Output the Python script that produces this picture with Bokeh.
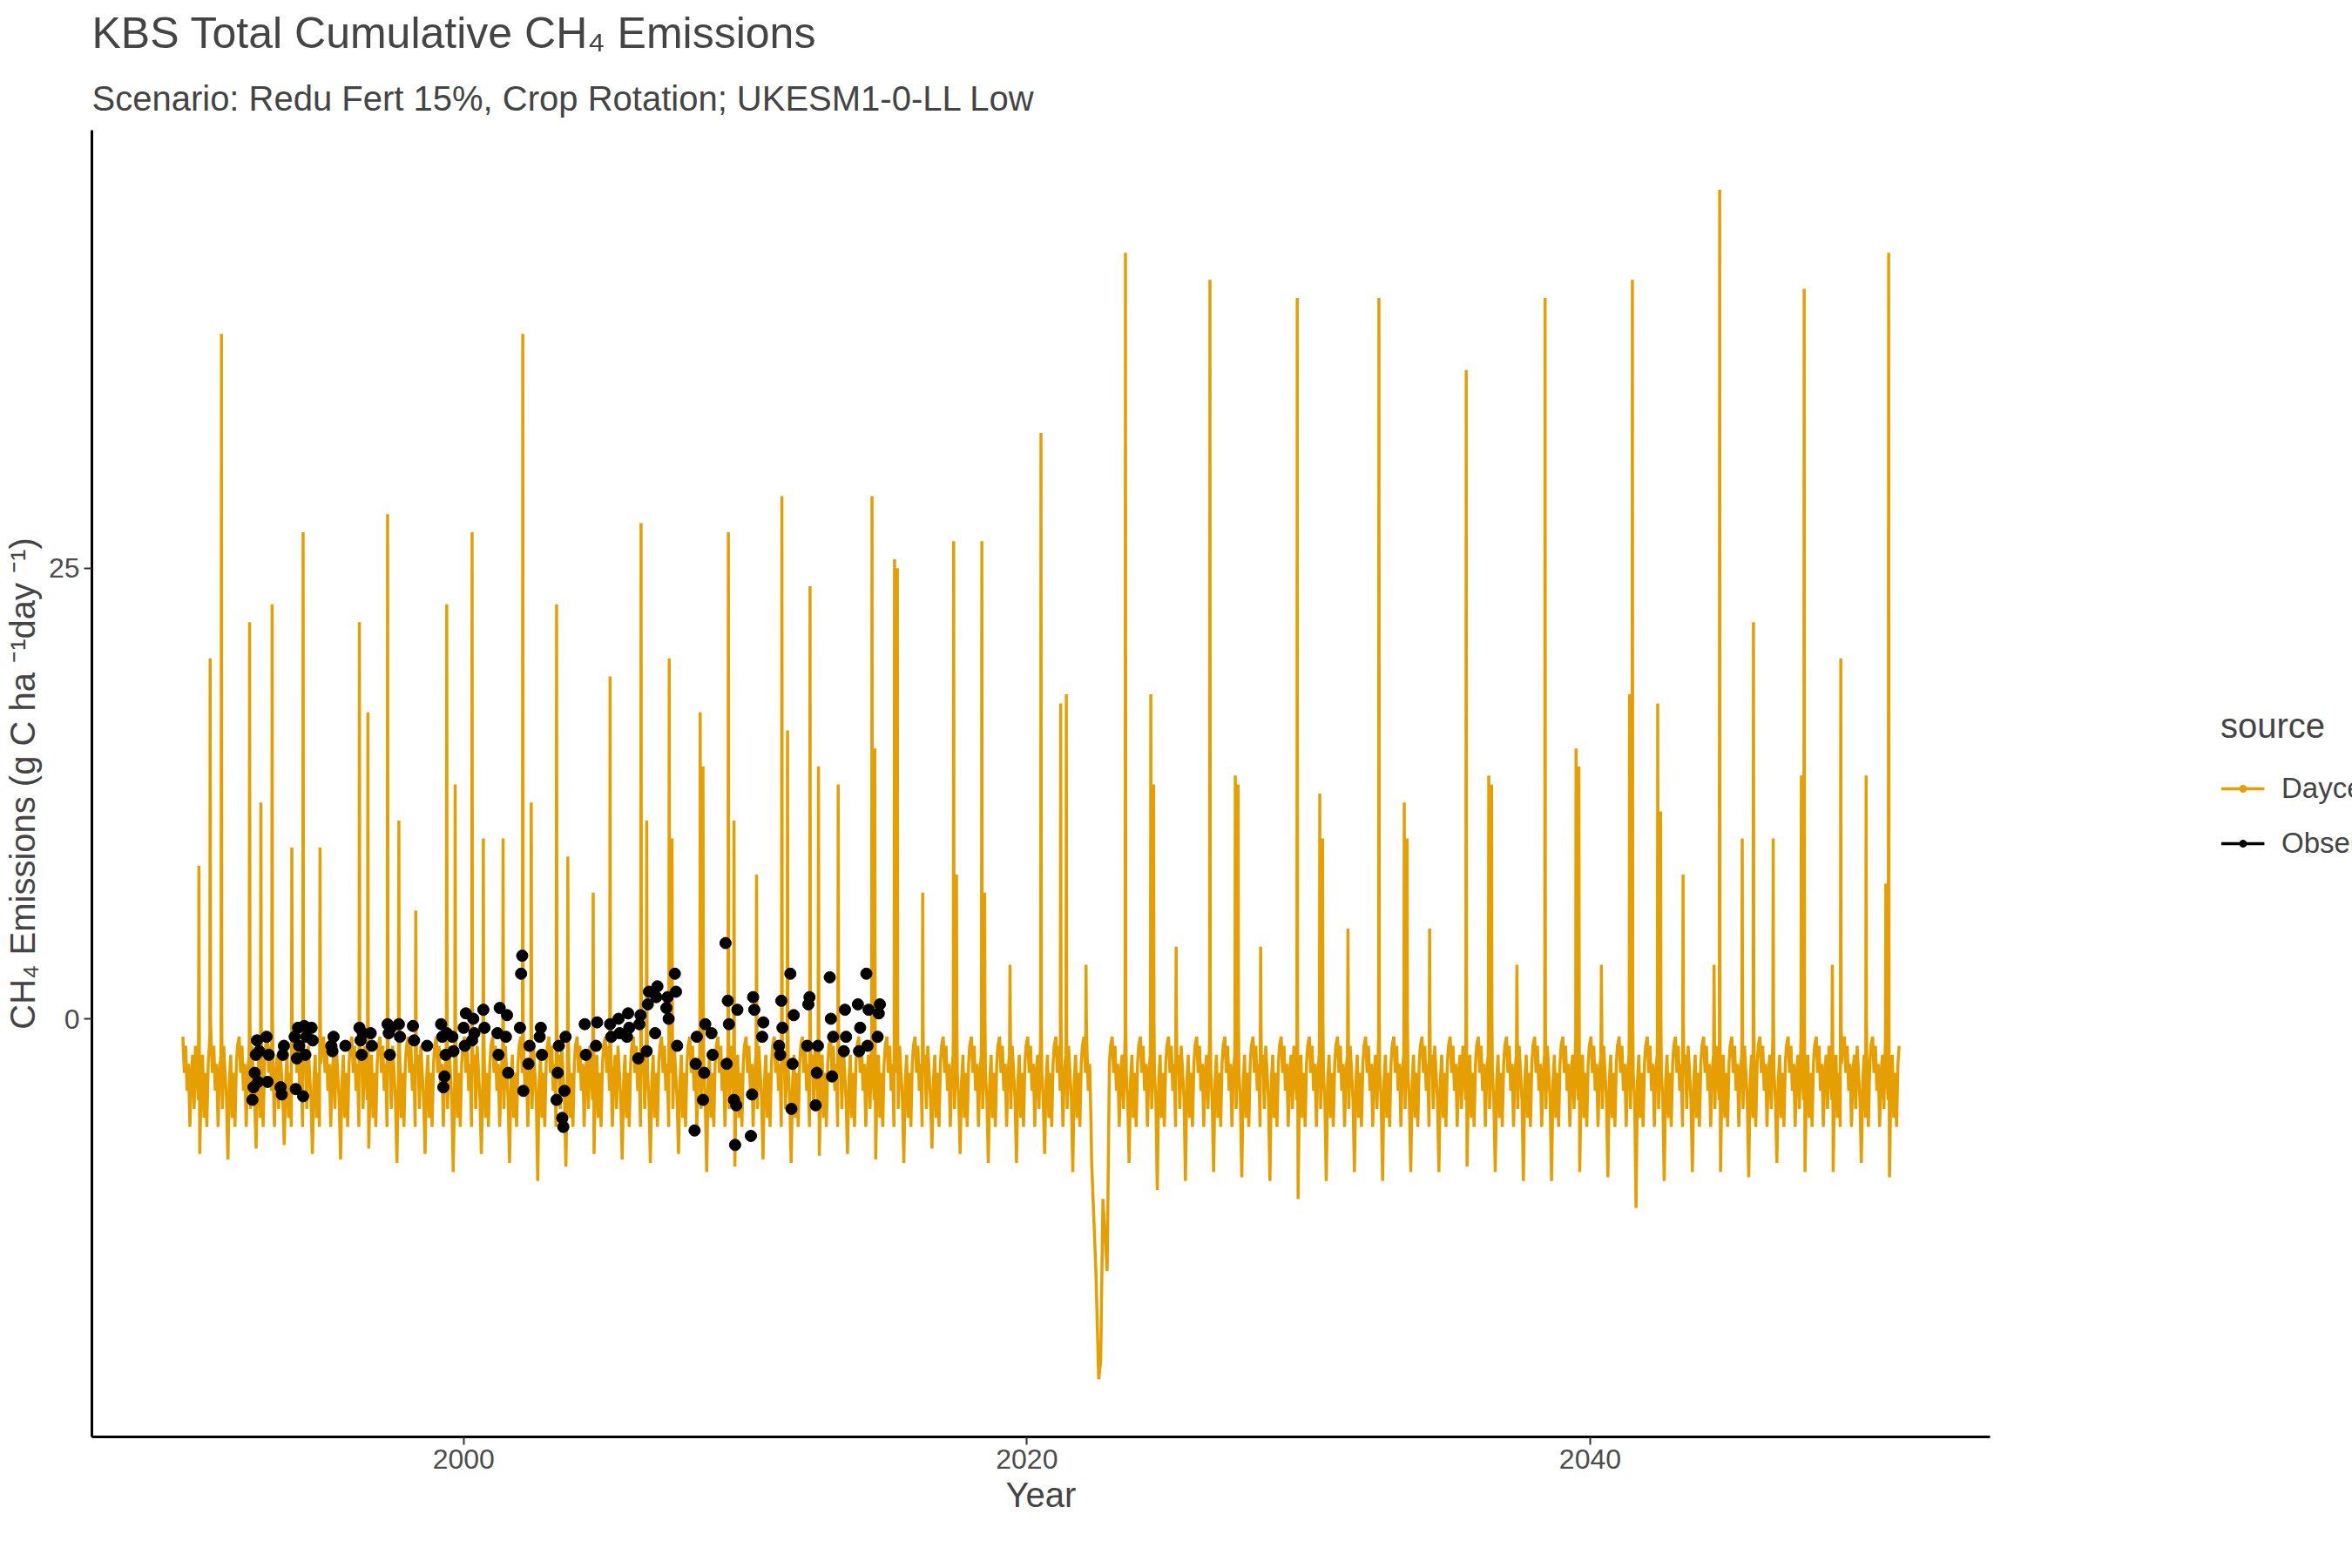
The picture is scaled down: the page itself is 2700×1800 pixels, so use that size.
from bokeh.plotting import figure
from bokeh.models import Legend, LegendItem, FixedTicker, Title
from bokeh.embed import file_html
from bokeh.resources import INLINE

# Daycent: yearly minimum (late-season trough), g C / ha / day
years = list(range(1990, 2051))
troughs = [-7.5, -7.8, -7.2, -7.0, -7.5, -7.8, -7.2, -8.0, -7.5, -8.5, -7.5, -8.0,
           -9.0, -8.2, -7.5, -7.8, -8.0, -7.5, -8.5, -8.2, -7.8, -8.0, -7.6, -7.5,
           -7.8, -8.0, -7.2, -7.5, -8.0, -8.0, -7.5, -8.5, -8.5, -8.0, -9.5, -9.0,
           -8.5, -8.8, -9.0, -10.0, -9.0, -8.5, -9.0, -8.5, -8.5, -8.2, -8.5, -9.0,
           -9.0, -8.5, -8.8, -10.5, -9.0, -8.5, -8.5, -8.8, -8.0, -8.5, -8.5, -8.0, -8.8]
# seasonal shape within a year (fraction of year, value); None marks the trough
season_pos = [0.03, 0.08, 0.13, 0.18, 0.23, 0.28, 0.33, 0.38, 0.43, 0.48, 0.53,
              0.58, 0.63, 0.68, 0.73, 0.78, 0.83, 0.88, 0.93, 0.97]
season_val = [-1.0, -3.0, -1.5, -4.0, -2.5, -6.0, -3.0, -2.0, -5.0, -1.5, -3.0,
              -4.5, None, -3.5, -2.0, -5.5, -3.0, -6.0, -2.5, -1.5]

# emission spikes (year, peak)
spike_x = [1991.4, 1992.4, 1993.2, 1994.3, 1996.3, 1997.3, 1999.4, 2000.3, 2002.1, 2003.3,
           2005.2, 2006.3, 2007.3, 2008.4, 2009.4, 2011.3, 2012.3, 2014.5, 2015.3, 2017.4,
           2018.4, 2020.5, 2021.4, 2023.5, 2024.4, 2026.5, 2027.4, 2029.6, 2030.4, 2032.5,
           2033.4, 2035.6, 2036.4, 2038.4, 2039.5, 2041.5, 2042.4, 2044.6, 2045.8, 2047.6,
           2048.9, 2050.6,
           1990.6, 1991.0, 1992.8, 1993.9, 1994.9, 1996.6, 1997.7, 1998.3, 1999.7, 2000.7,
           2001.4, 2002.4, 2003.7, 2004.6, 2006.5, 2007.4, 2008.5, 2009.6, 2010.4, 2011.5,
           2012.6, 2013.3, 2014.6, 2015.4, 2016.3, 2017.5, 2018.5, 2019.4, 2021.2, 2022.1,
           2024.5, 2025.3, 2027.5, 2028.3, 2030.5, 2031.4, 2033.5, 2034.3, 2036.5, 2037.4,
           2039.6, 2040.4, 2041.4, 2042.5, 2043.3, 2044.4, 2045.4, 2046.5, 2047.5, 2048.6,
           2049.8, 2050.5]
spike_h = [38, 22, 23, 27, 22, 28, 23, 27, 38, 23,
           19, 27.5, 20, 17, 27, 29, 24, 29, 25.5, 26.5,
           26.5, 32.5, 18, 42.5, 18, 41, 13.5, 40, 12.5, 40,
           12, 36, 13.5, 40, 15, 41, 17.5, 46, 22, 40.5,
           20, 42.5,
           8.5, 20, 12, 9.5, 9.5, 17, 11, 6, 13, 10,
           10, 12, 9, 7, 11, 10, 14, 11, 8, 16,
           14, 13, 15, 25, 7, 8, 7, 3, 17.5, 3,
           13, 4, 13, 4, 10, 5, 10, 5, 13, 3,
           14, 3, 18, 11.5, 8, 3, 10, 10, 13.5, 3,
           13.5, 7.5]

# 2022 soil-uptake anomaly
dip_x = [2022.3, 2022.45, 2022.55, 2022.62, 2022.7, 2022.85]
dip_y = [-8, -14, -20, -19, -10, -14]

# Observed measurements: sampling date -> values
obs = {
    1992.5: [-4.5, -3.8, -3.0, -2.0, -1.2, -3.5, -1.8], 1993.0: [-1.0, -3.5, -2.0],
    1993.5: [-3.8, -4.2, -2.0, -1.5], 1994.0: [-1.0, -3.9, -2.2, -0.5, -1.5],
    1994.3: [-4.3, -0.4, -2.0, -1.0], 1994.6: [-0.5, -1.2], 1995.3: [-1.5, -1.8, -1.0],
    1995.8: [-1.5], 1996.3: [-0.5, -1.2, -2.0, -0.8], 1996.7: [-0.8, -1.5],
    1997.3: [-0.3, -0.8, -2.0, -0.5], 1997.7: [-0.3, -1.0], 1998.2: [-0.4, -1.2],
    1998.7: [-1.5], 1999.2: [-0.3, -1.0, -3.8, -3.2, -2.0, -0.8], 1999.6: [-1.0, -1.8],
    2000.0: [-0.5, -1.5, 0.3], 2000.3: [-1.2, 0.0, -0.8], 2000.7: [0.5, -0.5],
    2001.2: [-0.8, -2.0, 0.6], 2001.5: [-1.0, 0.2, -3.0], 2002.0: [-0.5, 2.5, 3.5, -4.0],
    2002.3: [-2.5, -1.5], 2002.7: [-1.0, -0.5, -2.0], 2003.3: [-4.5, -3.0, -1.5],
    2003.5: [-5.5, -6.0, -4.0, -1.0], 2004.3: [-0.3, -2.0], 2004.7: [-1.5, -0.2],
    2005.2: [-0.3, -1.0], 2005.5: [0.0, -0.8], 2005.8: [-1.0, 0.3, -0.5],
    2006.2: [-2.2, -0.3, 0.2], 2006.5: [-1.8, 0.8, 1.5], 2006.8: [-0.8, 1.2, 1.8],
    2007.2: [0.6, 1.2, 0.0], 2007.5: [2.5, 1.5, -1.5], 2008.2: [-6.2, -2.5, -1.0],
    2008.5: [-4.5, -3.0, -0.3], 2008.8: [-0.8, -2.0], 2009.3: [4.2, -2.5, 1.0, -0.3],
    2009.6: [-4.5, -7.0, -4.8, 0.5], 2010.2: [-6.5, -4.2, 1.2, 0.5], 2010.6: [-1.0, -0.2],
    2011.2: [-1.5, -2.0, 1.0, -0.5], 2011.6: [2.5, -5.0, -2.5, 0.2], 2012.2: [-1.5, 0.8, 1.2],
    2012.5: [-4.8, -3.0, -1.5], 2013.0: [2.3, 0.0, -3.2, -1.0], 2013.5: [-1.8, 0.5, -1.0],
    2014.0: [0.8, -1.8, -0.5], 2014.3: [2.5, -1.5, 0.5], 2014.7: [-1.0, 0.3, 0.8],
}

# assemble the Daycent line
pts = []
for yr, tr in zip(years, troughs):
    for fp, v in zip(season_pos, season_val):
        pts.append((yr + fp, tr if v is None else v))
for sx, sh in zip(spike_x, spike_h):
    pts += [(sx - 0.012, -1.0), (sx, sh), (sx + 0.012, 0.0)]
pts = [p for p in pts if not (2022.28 < p[0] < 2022.9)]
pts += list(zip(dip_x, dip_y))
pts.sort()
day_x = [p[0] for p in pts]
day_y = [p[1] for p in pts]

obs_x, obs_y = [], []
for d, vals in obs.items():
    for i, v in enumerate(vals):
        obs_x.append(d + 0.04 * i)
        obs_y.append(v)

ORANGE = "#E69F00"
FONT = "Liberation Sans"
p = figure(frame_width=2179, frame_height=1500, x_range=(1986.8, 2054.2), y_range=(-23.2, 49.3),
           output_backend="svg", toolbar_location=None,
           min_border_left=20, min_border_right=20, min_border_bottom=20, min_border_top=10)
p.title.visible = False
p.add_layout(Title(text="Scenario: Redu Fert 15%, Crop Rotation; UKESM1-0-LL Low",
                   text_font_size="40px", text_font_style="normal", text_font=FONT,
                   standoff=30), "above")
p.add_layout(Title(text="KBS Total Cumulative CH₄ Emissions", text_font_size="50px",
                   text_font_style="normal", text_font=FONT, standoff=15), "above")

p.line(day_x, day_y, color=ORANGE, line_width=3.5)
p.scatter(obs_x, obs_y, size=13, color="black")

# legend keys (placed off-range so only the legend shows them)
l1 = p.line([1900, 1901], [0, 0], color=ORANGE, line_width=3.5)
s1 = p.scatter([1900.5], [0], color=ORANGE, size=12)
l2 = p.line([1900, 1901], [0, 0], color="black", line_width=3.5)
s2 = p.scatter([1900.5], [0], color="black", size=12)
legend = Legend(items=[LegendItem(label="Daycent", renderers=[l1, s1]),
                       LegendItem(label="Observed", renderers=[l2, s2])],
                title="source", title_text_font_size="40px", label_text_font_size="33px",
                title_text_font_style="normal", title_text_font=FONT, label_text_font=FONT,
                border_line_color=None, background_fill_alpha=0, glyph_width=50,
                label_standoff=20, spacing=25, location="center", margin=40,
                title_standoff=30)
p.add_layout(legend, "right")

p.xgrid.visible = False
p.ygrid.visible = False
p.outline_line_color = None
p.xaxis.ticker = FixedTicker(ticks=[2000, 2020, 2040])
p.yaxis.ticker = FixedTicker(ticks=[0, 25])
p.xaxis.axis_label = "Year"
p.yaxis.axis_label = "CH₄ Emissions (g C ha ⁻¹day ⁻¹)"
for ax in (p.xaxis, p.yaxis):
    ax.axis_label_text_font_size = "40px"
    ax.axis_label_text_font_style = "normal"
    ax.axis_label_text_font = FONT
    ax.major_label_text_font_size = "32px"
    ax.major_label_text_font = FONT
    ax.major_label_text_color = "#4d4d4d"
    ax.axis_line_color = "black"
    ax.axis_line_width = 3
    ax.major_tick_line_color = "#333333"
    ax.major_tick_line_width = 2
    ax.major_tick_out = 9
    ax.major_tick_in = 0
    ax.minor_tick_line_color = None

open("out.html", "w").write(file_html(p, INLINE))
